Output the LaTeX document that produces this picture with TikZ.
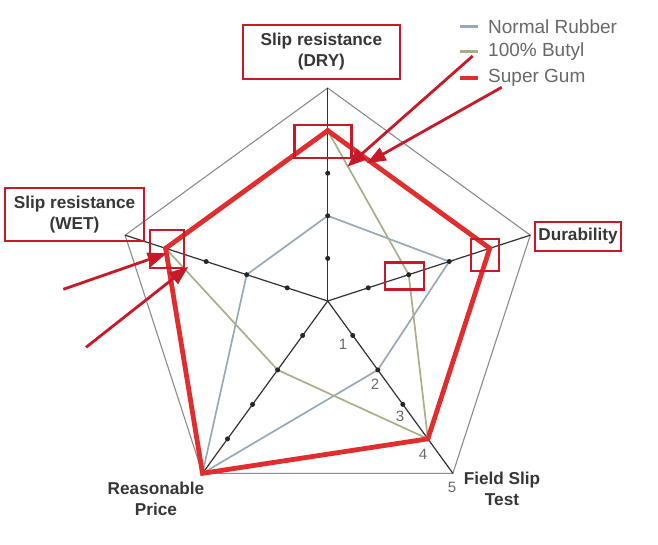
\documentclass[tikz,border=0pt]{standalone}
\usepackage{fontspec}
\setmainfont{Liberation Sans}
\usetikzlibrary{arrows.meta}
\definecolor{nrub}{RGB}{150,170,185}
\definecolor{buty}{RGB}{168,176,135}
\definecolor{sgum}{RGB}{225,45,45}
\definecolor{anno}{RGB}{200,25,40}
\definecolor{axisc}{RGB}{50,50,50}
\definecolor{gridc}{RGB}{140,140,140}
\definecolor{txtc}{RGB}{55,55,55}
\definecolor{legc}{RGB}{105,105,105}
\begin{document}
\begin{tikzpicture}[x=1pt,y=-1pt,
  lbl/.style={font=\fontsize{17.2}{21}\selectfont\bfseries, text=txtc, align=center, inner sep=0pt},
  labelbox/.style={draw=anno, line width=2.4pt, minimum width=#1, inner sep=0pt},
  hlbox/.style={draw=anno, line width=2.4pt, inner sep=0pt},
  annoarrow/.style={draw=anno, line width=2.8pt, -{Triangle[length=19pt,width=14pt]}},
  legtxt/.style={font=\fontsize{19}{21}\selectfont, text=legc, anchor=west, inner sep=0pt},
  tick/.style={font=\fontsize{15}{15}\selectfont, text=legc, inner sep=0pt},
  gridline/.style={draw=gridc, line width=1.1pt},
  axisline/.style={draw=axisc, line width=1.2pt},
  nrubline/.style={draw=nrub, line width=1.7pt},
  butyline/.style={draw=buty, line width=1.7pt},
  sgumline/.style={draw=sgum, line width=4.8pt, line join=miter}
]
\useasboundingbox (0,0) rectangle (658,545);
\fill[white] (0,0) rectangle (658,545);
\coordinate (C) at (327.7,301);
\foreach \n/\a in {dry/-90,dur/-18,fld/54,prc/126,wet/198}{
  \foreach \k in {1,2,3,4,5}{
    \coordinate (\n\k) at ([shift={(\a:\k*42.6)}]C);
  }
}
% outer pentagon
\draw[gridline] (dry5) -- (dur5) -- (fld5) -- (prc5) -- (wet5) -- cycle;
% axes
\foreach \n in {dry,dur,fld,prc,wet}{
  \draw[axisline] (C) -- (\n5);
}
% series
\draw[nrubline] (dry2) -- (dur3) -- (fld2) -- (prc5) -- (wet2) -- cycle;
\draw[butyline] (dry4) -- (dur2) -- (fld4) -- (prc2) -- (wet4) -- cycle;
% dots
\foreach \n in {dry,dur,fld,prc,wet}{
  \foreach \k in {1,2,3,4}{
    \fill[black!85] (\n\k) circle (2.5);
  }
}
\draw[sgumline] (dry4) -- (dur4) -- (fld4) -- (prc5) -- (wet4) -- cycle;
% tick labels
\node[tick] (t1) at (343,344) {1};
\node[tick] (t2) at (375,384) {2};
\node[tick] (t3) at (400,416) {3};
\node[tick] (t4) at (423,454) {4};
\node[tick] (t5) at (452,487) {5};
% axis labels
\node[lbl, labelbox=157pt, minimum height=54pt] (ldry) at (321.4,52) {Slip resistance\\(DRY)};
\node[lbl, labelbox=139pt, minimum height=53pt] (lwet) at (74.5,214.5) {Slip resistance\\(WET)};
\node[lbl, labelbox=86pt, minimum height=29pt] (ldur) at (578,236.5) {Durability};
\node[lbl] (lfld) at (502,489) {Field Slip\\Test};
\node[lbl] (lprc) at (156,499) {Reasonable\\Price};
% legend
\coordinate (lg1a) at (460,26.7); \coordinate (lg1b) at (478,26.7);
\coordinate (lg2a) at (460,51.7); \coordinate (lg2b) at (478,51.7);
\coordinate (lg3a) at (460,78.3); \coordinate (lg3b) at (478,78.3);
\draw[nrub, line width=2.5pt] (lg1a) -- (lg1b);
\draw[buty, line width=2.5pt] (lg2a) -- (lg2b);
\draw[sgum, line width=4pt] (lg3a) -- (lg3b);
\node[legtxt] (lgt1) at (488,26.7) {Normal Rubber};
\node[legtxt] (lgt2) at (488,51.7) {100\% Butyl};
\node[legtxt] (lgt3) at (488,78.3) {Super Gum};
% highlight boxes
\node[hlbox, minimum width=57pt, minimum height=33pt] (hdry) at (323,141.7) {};
\node[hlbox, minimum width=34pt, minimum height=38pt] (hwet) at (167,249) {};
\node[hlbox, minimum width=28pt, minimum height=32pt] (hdur) at (484.7,254.8) {};
\node[hlbox, minimum width=39pt, minimum height=27pt] (hbut) at (404.5,276) {};
% arrows
\coordinate (a1s) at (472.7,56);   \coordinate (a1e) at (347.3,166.7);
\coordinate (a2s) at (501.7,87.3); \coordinate (a2e) at (366.7,163.3);
\coordinate (a3s) at (63.3,289.3); \coordinate (a3e) at (166.7,253.3);
\coordinate (a4s) at (86,347.3);   \coordinate (a4e) at (188.3,266.7);
\draw[annoarrow] (a1s) -- (a1e);
\draw[annoarrow] (a2s) -- (a2e);
\draw[annoarrow] (a3s) -- (a3e);
\draw[annoarrow] (a4s) -- (a4e);
\end{tikzpicture}
\end{document}
